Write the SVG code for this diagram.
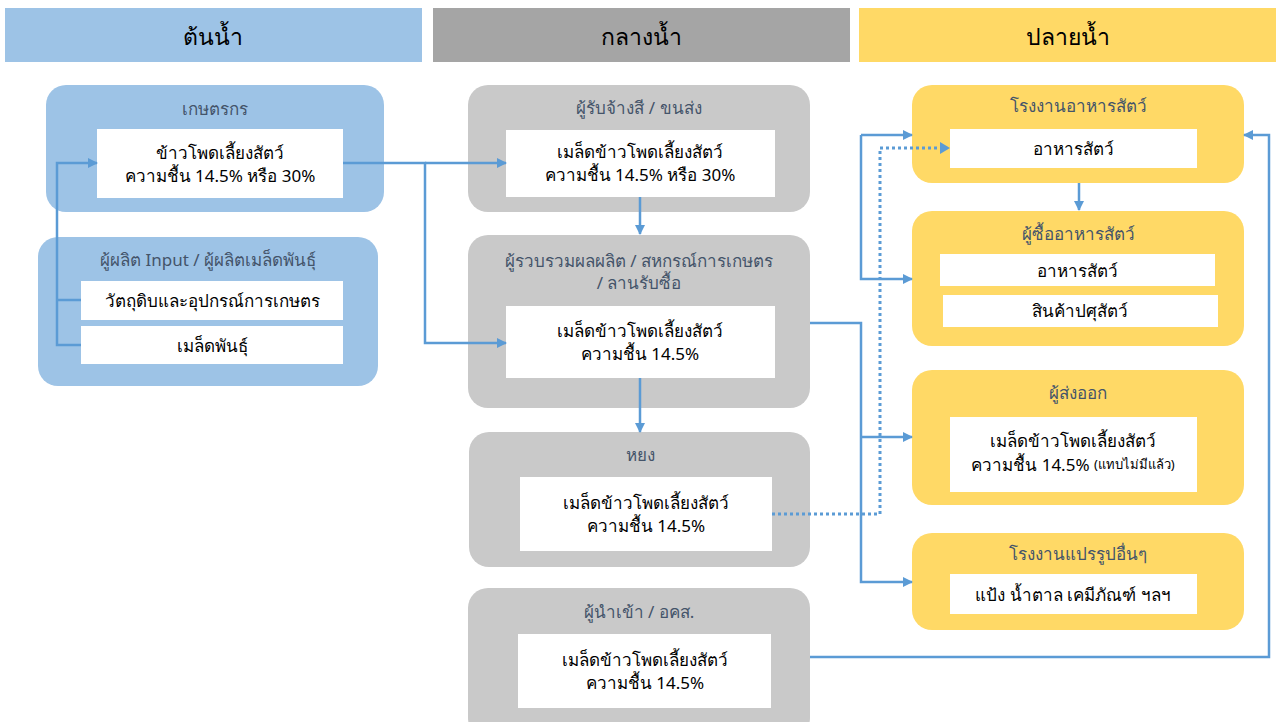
<svg xmlns="http://www.w3.org/2000/svg" width="1276" height="722" viewBox="0 0 1276 722">
<defs>
<style>
text{font-family:"Noto Sans","DejaVu Sans",sans-serif;text-anchor:middle;dominant-baseline:central}
.hd{font-size:23px;fill:#000}
.tt{font-size:17px;fill:#44546A}
.tx{font-size:17px;fill:#000}
.sm{font-size:13px;fill:#000}
.w{fill:#fff}
.blue{fill:#9DC3E6}
.gray{fill:#C9C9C9}
.yel{fill:#FFD966}
.ln{fill:none;stroke:#5B9BD5;stroke-width:2.5}
.dt{fill:none;stroke:#5B9BD5;stroke-width:3;stroke-dasharray:3 3}
</style>
<marker id="ah" markerWidth="10" markerHeight="10" refX="9" refY="5" orient="auto" markerUnits="userSpaceOnUse">
<path d="M0,0 L10,5 L0,10 Z" fill="#5B9BD5"/>
</marker>
</defs>
<rect width="1276" height="722" fill="#fff"/>
<g id="headers">
<rect x="5" y="8" width="417" height="54" class="blue"/>
<text x="213" y="36" class="hd">ต้นน้ำ</text>
<rect x="433" y="8" width="417" height="54" fill="#A5A5A5"/>
<text x="641" y="36" class="hd">กลางน้ำ</text>
<rect x="859" y="8" width="417" height="54" class="yel"/>
<text x="1068" y="36" class="hd">ปลายน้ำ</text>
</g>
<g id="farmer">
<rect x="46" y="85" width="338" height="127" rx="20" class="blue"/>
<text x="215" y="108" class="tt">เกษตรกร</text>
<rect x="97" y="129" width="246" height="69" class="w"/>
<text x="220" y="152" class="tx">ข้าวโพดเลี้ยงสัตว์</text>
<text x="220" y="175" class="tx">ความชื้น 14.5% หรือ 30%</text>
</g>
<g id="input">
<rect x="38" y="237" width="340" height="149" rx="20" class="blue"/>
<text x="208" y="259" class="tt">ผู้ผลิต Input / ผู้ผลิตเมล็ดพันธุ์</text>
<rect x="81" y="281" width="262" height="39" class="w"/>
<text x="212" y="300" class="tx">วัตถุดิบและอุปกรณ์การเกษตร</text>
<rect x="81" y="326" width="262" height="38" class="w"/>
<text x="212" y="345" class="tx">เมล็ดพันธุ์</text>
</g>
<g id="contractor">
<rect x="468" y="85" width="342" height="127" rx="20" class="gray"/>
<text x="639" y="107" class="tt">ผู้รับจ้างสี / ขนส่ง</text>
<rect x="506" y="130" width="269" height="67" class="w"/>
<text x="640" y="151" class="tx">เมล็ดข้าวโพดเลี้ยงสัตว์</text>
<text x="640" y="174" class="tx">ความชื้น 14.5% หรือ 30%</text>
</g>
<g id="collector">
<rect x="468" y="235" width="342" height="173" rx="20" class="gray"/>
<text x="639" y="260" class="tt">ผู้รวบรวมผลผลิต / สหกรณ์การเกษตร</text>
<text x="639" y="282" class="tt">/ ลานรับซื้อ</text>
<rect x="506" y="306" width="269" height="72" class="w"/>
<text x="640" y="330" class="tx">เมล็ดข้าวโพดเลี้ยงสัตว์</text>
<text x="640" y="353" class="tx">ความชื้น 14.5%</text>
</g>
<g id="yong">
<rect x="469" y="432" width="341" height="135" rx="20" class="gray"/>
<text x="640" y="454" class="tt">หยง</text>
<rect x="520" y="477" width="252" height="74" class="w"/>
<text x="646" y="502" class="tx">เมล็ดข้าวโพดเลี้ยงสัตว์</text>
<text x="646" y="525" class="tx">ความชื้น 14.5%</text>
</g>
<g id="importer">
<rect x="468" y="588" width="342" height="150" rx="20" class="gray"/>
<text x="639" y="611" class="tt">ผู้นำเข้า / อคส.</text>
<rect x="518" y="634" width="253" height="74" class="w"/>
<text x="645" y="659" class="tx">เมล็ดข้าวโพดเลี้ยงสัตว์</text>
<text x="645" y="682" class="tx">ความชื้น 14.5%</text>
</g>
<g id="feedmill">
<rect x="912" y="85" width="332" height="98" rx="20" class="yel"/>
<text x="1078" y="105" class="tt">โรงงานอาหารสัตว์</text>
<rect x="950" y="129" width="247" height="39" class="w"/>
<text x="1073" y="148" class="tx">อาหารสัตว์</text>
</g>
<g id="feedbuyer">
<rect x="912" y="211" width="332" height="135" rx="20" class="yel"/>
<text x="1078" y="233" class="tt">ผู้ซื้ออาหารสัตว์</text>
<rect x="940" y="254" width="275" height="32" class="w"/>
<text x="1077" y="270" class="tx">อาหารสัตว์</text>
<rect x="943" y="295" width="275" height="32" class="w"/>
<text x="1080" y="310" class="tx">สินค้าปศุสัตว์</text>
</g>
<g id="exporter">
<rect x="912" y="370" width="332" height="135" rx="20" class="yel"/>
<text x="1078" y="392" class="tt">ผู้ส่งออก</text>
<rect x="950" y="417" width="247" height="75" class="w"/>
<text x="1073" y="440" class="tx">เมล็ดข้าวโพดเลี้ยงสัตว์</text>
<text x="1073" y="464" class="tx">ความชื้น 14.5% <tspan class="sm">(แทบไม่มีแล้ว)</tspan></text>
</g>
<g id="otherplant">
<rect x="912" y="533" width="332" height="97" rx="20" class="yel"/>
<text x="1078" y="553" class="tt">โรงงานแปรรูปอื่นๆ</text>
<rect x="950" y="574" width="247" height="40" class="w"/>
<text x="1073" y="594" class="tx">แป้ง น้ำตาล เคมีภัณฑ์ ฯลฯ</text>
</g>
<g id="connectors">
<path class="ln" d="M81,300 H57 M81,345 H57 V163 H97" marker-end="url(#ah)"/>
<path class="ln" d="M343,163 H425 V343 H506" marker-end="url(#ah)"/>
<path class="ln" d="M425,163 H506" marker-end="url(#ah)"/>
<path class="ln" d="M640,197 V234" marker-end="url(#ah)"/>
<path class="ln" d="M640,378 V432" marker-end="url(#ah)"/>
<path class="ln" d="M810,323 H861 V582 H912" marker-end="url(#ah)"/>
<path class="ln" d="M861,135 H912" marker-end="url(#ah)"/>
<path class="ln" d="M861,135 V279 H912" marker-end="url(#ah)"/>
<path class="ln" d="M861,437 H912" marker-end="url(#ah)"/>
<path class="ln" d="M1079,183 V210" marker-end="url(#ah)"/>
<path class="ln" d="M810,657 H1269 V135 H1244" marker-end="url(#ah)"/>
<path class="dt" d="M772,514 H880 V148 H940"/>
<path d="M940,142 L950,148 L940,154 Z" fill="#5B9BD5"/>
</g>
</svg>
